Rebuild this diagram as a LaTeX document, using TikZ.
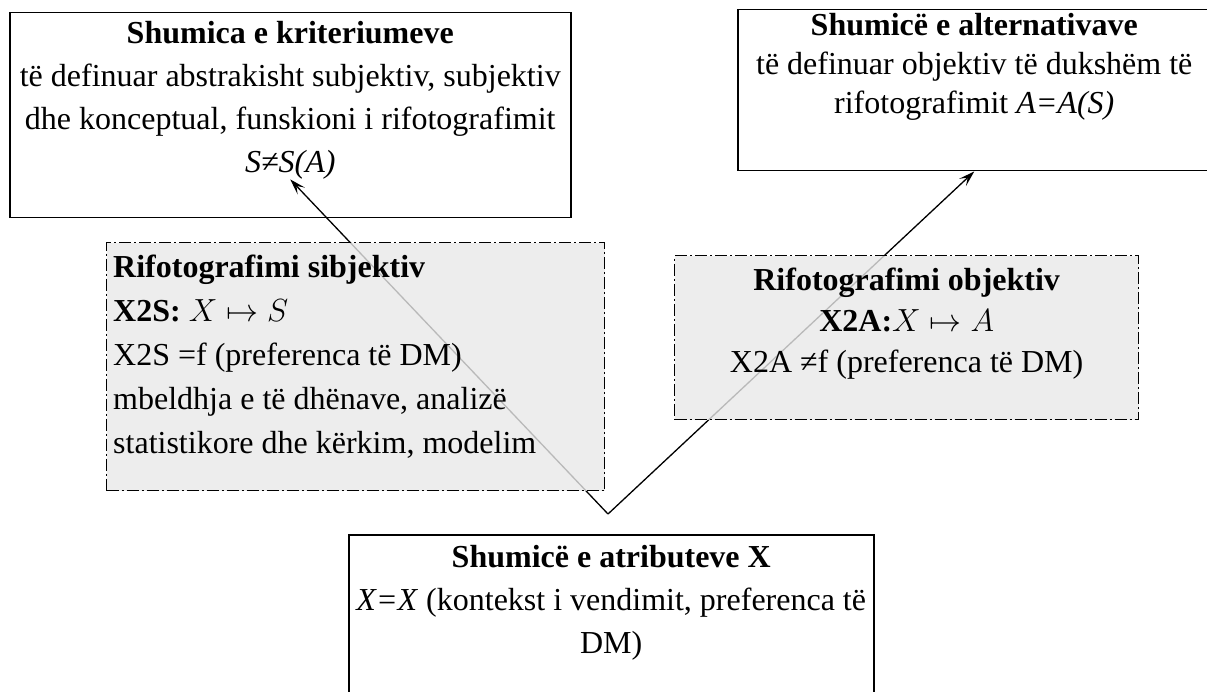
\RequirePackage{fix-cm}
\documentclass[tikz,border=0pt]{standalone}
\usepackage{fontspec}
\setmainfont{Liberation Serif}
\usetikzlibrary{positioning,arrows.meta}
\definecolor{ShadeGray}{RGB}{232,232,232}

\tikzset{
  plainbox/.style={draw, line width=1.5pt, inner sep=0pt, anchor=north west},
  shadebox/.style={draw, line width=1.3pt, dash pattern=on 12pt off 3pt on 2pt off 3pt,
    fill=ShadeGray, fill opacity=0.8, inner sep=0pt, anchor=north west},
  boxtext/.style={inner sep=0pt, align=center},
  link/.style={line width=1.3pt, -{Stealth[length=16pt,width=10pt,inset=7pt]}}
}

\begin{document}
\begin{tikzpicture}[x=1pt, y=-1pt, every node/.style={font=\fontsize{32}{43}\selectfont}]
  \useasboundingbox (0,0) rectangle (1207,692);
  % frames
  \node[plainbox, minimum width=561pt, minimum height=205pt] (kritBox) at (9,12) {};
  \node[plainbox, minimum width=473pt, minimum height=161pt] (altBox) at (737,9) {};
  \node[plainbox, minimum width=525pt, minimum height=190pt] (atrBox) at (348,534) {};
  % texts of the frames
  \node[boxtext, below=9pt of kritBox.north] (kritText)
    {\textbf{Shumica e kriteriumeve}\\të definuar abstrakisht subjektiv, subjektiv\\
     dhe konceptual, funskioni i rifotografimit\\\textit{S≠S(A)}};
  \node[boxtext, below=4pt of altBox.north, font=\fontsize{32}{39}\selectfont] (altText)
    {\textbf{Shumicë e alternativave}\\të definuar objektiv të dukshëm të\\
     rifotografimit \textit{A=A(S)}};
  \node[boxtext, below=11pt of atrBox.north] (atrText)
    {\textbf{Shumicë e atributeve X}\\\textit{X=X} (kontekst i vendimit, preferenca të\\DM)};
  % connectors
  \coordinate (vtip) at (608,514);
  \foreach \goal in {kritText.south, altBox.south}
    \draw[link] (vtip) -- (\goal);
  % shaded mappings
  \node[shadebox, minimum width=498pt, minimum height=248pt] (subjBox) at (106,242) {};
  \node[shadebox, minimum width=464pt, minimum height=164pt] (objBox) at (674,255) {};
  \node[boxtext, align=left, below right=13pt and 7pt of subjBox.north west,
        font=\fontsize{32}{44}\selectfont] (subjText)
    {\textbf{Rifotografimi sibjektiv}\\\textbf{X2S:} $X\mapsto S$\\X2S =f (preferenca të DM)\\
     mbeldhja e të dhënave, analizë\\statistikore dhe kërkim, modelim};
  \node[boxtext, below=13pt of objBox.north, font=\fontsize{32}{41}\selectfont] (objText)
    {\textbf{Rifotografimi objektiv}\\\textbf{X2A:}$X\mapsto A$\\X2A ≠f (preferenca të DM)};
\end{tikzpicture}
\end{document}
